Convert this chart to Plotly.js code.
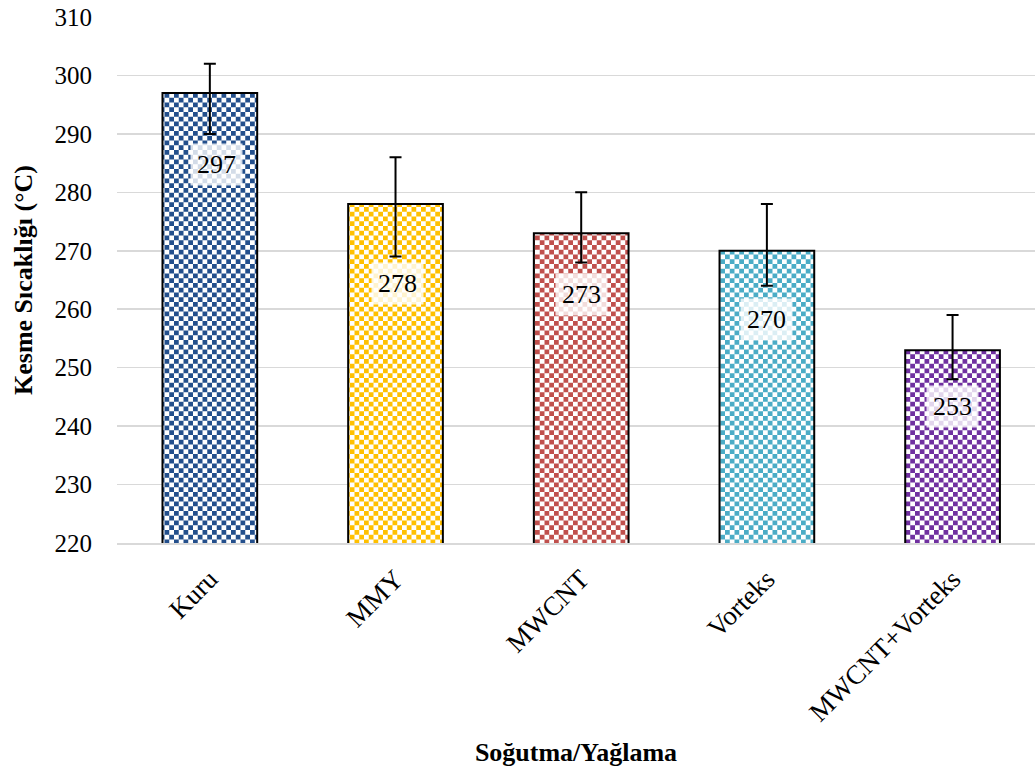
<!DOCTYPE html>
<html>
<head>
<meta charset="utf-8">
<script src="https://cdn.plot.ly/plotly-3.0.1.min.js"></script>
<style>
html,body{margin:0;padding:0;background:#fff;overflow:hidden;}
#chart{width:1035px;height:767px;}
</style>
</head>
<body>
<div id="chart"></div>
<script>
// ---- data ----
const categories = ["Kuru", "MMY", "MWCNT", "Vorteks", "MWCNT+Vorteks"];
const temperatures = [297, 278, 273, 270, 253];
const errorPlus = [5, 8, 7, 8, 6];
const errorMinus = [7, 9, 5, 6, 5];
const valueLabels = ["297", "278", "273", "270", "253"];
const yTickValues = [220, 230, 240, 250, 260, 270, 280, 290, 300, 310];

// ---- styles ----
const barColors = ["#234F8C", "#FFC000", "#C0504D", "#4BACC6", "#7030A0"];
const labelShiftY = [-72, -79, -61, -69, -56];
const labelShiftX = [7, 2, 0, 0, 0];
const serif = "'Liberation Serif', 'Times New Roman', serif";

const trace = {
  type: "bar",
  x: categories,
  y: temperatures,
  marker: {color: barColors, line: {color: "#000000", width: 2}},
  error_y: {
    type: "data", symmetric: false,
    array: errorPlus, arrayminus: errorMinus,
    color: "#000000", thickness: 2, width: 6
  },
  hoverinfo: "x+y"
};

const annotations = categories.map((c, i) => ({
  x: c, y: temperatures[i], xref: "x", yref: "y",
  text: valueLabels[i], showarrow: false,
  yshift: labelShiftY[i], xshift: labelShiftX[i],
  font: {family: serif, size: 26, color: "#000"},
  bgcolor: "rgba(255,255,255,0.8)", borderpad: 6
}));

const layout = {
  width: 1035, height: 767,
  margin: {l: 117, r: 0, t: 17, b: 224},
  paper_bgcolor: "#fff", plot_bgcolor: "#fff",
  showlegend: false,
  bargap: 0.49,
  font: {family: serif, color: "#000"},
  xaxis: {
    type: "category",
    range: [-0.5, 4.444],
    tickangle: -45,
    tickfont: {family: serif, size: 27, color: "#000"},
    showline: true, linecolor: "#D9D9D9", linewidth: 1.5,
    ticks: "", ticklabelstandoff: 8,
    title: {text: "Soğutma/Yağlama", font: {family: serif, size: 26, color: "#000", weight: "bold"}, standoff: 20}
  },
  yaxis: {
    range: [220, 310],
    tickvals: yTickValues,
    tickfont: {family: serif, size: 25, color: "#000"},
    showgrid: true, gridcolor: "#D9D9D9", gridwidth: 1.5,
    zeroline: false, showline: false, ticks: "",
    ticklabelstandoff: 24,
    title: {text: "Kesme Sıcaklığı (°C)", font: {family: serif, size: 26, color: "#000", weight: "bold"}, standoff: 14}
  },
  annotations: annotations
};

function applyCheckers(gd) {
  const svg = gd.querySelector("svg.main-svg");
  if (!svg) return;
  let defs = svg.querySelector("defs");
  const NS = "http://www.w3.org/2000/svg";
  if (!defs) { defs = document.createElementNS(NS, "defs"); svg.insertBefore(defs, svg.firstChild); }
  const cell = 4.75;
  barColors.forEach((col, i) => {
    const id = "chk" + i;
    if (defs.querySelector("#" + id)) return;
    const p = document.createElementNS(NS, "pattern");
    p.setAttribute("id", id);
    p.setAttribute("patternUnits", "userSpaceOnUse");
    p.setAttribute("width", cell * 2);
    p.setAttribute("height", cell * 2);
    const bg = document.createElementNS(NS, "rect");
    bg.setAttribute("width", cell * 2); bg.setAttribute("height", cell * 2); bg.setAttribute("fill", "#fff");
    p.appendChild(bg);
    [[0, 0], [cell, cell]].forEach(([x, y]) => {
      const r = document.createElementNS(NS, "rect");
      r.setAttribute("x", x); r.setAttribute("y", y);
      r.setAttribute("width", cell); r.setAttribute("height", cell);
      r.setAttribute("fill", col);
      p.appendChild(r);
    });
    defs.appendChild(p);
  });
  gd.querySelectorAll(".trace.bars .point path").forEach((path, i) => {
    path.style.fill = "url(#chk" + i + ")";
  });
}

const gd = document.getElementById("chart");
Plotly.newPlot(gd, [trace], layout, {displayModeBar: false, staticPlot: true}).then(() => {
  applyCheckers(gd);
  gd.on("plotly_afterplot", () => applyCheckers(gd));
});
</script>
</body>
</html>
